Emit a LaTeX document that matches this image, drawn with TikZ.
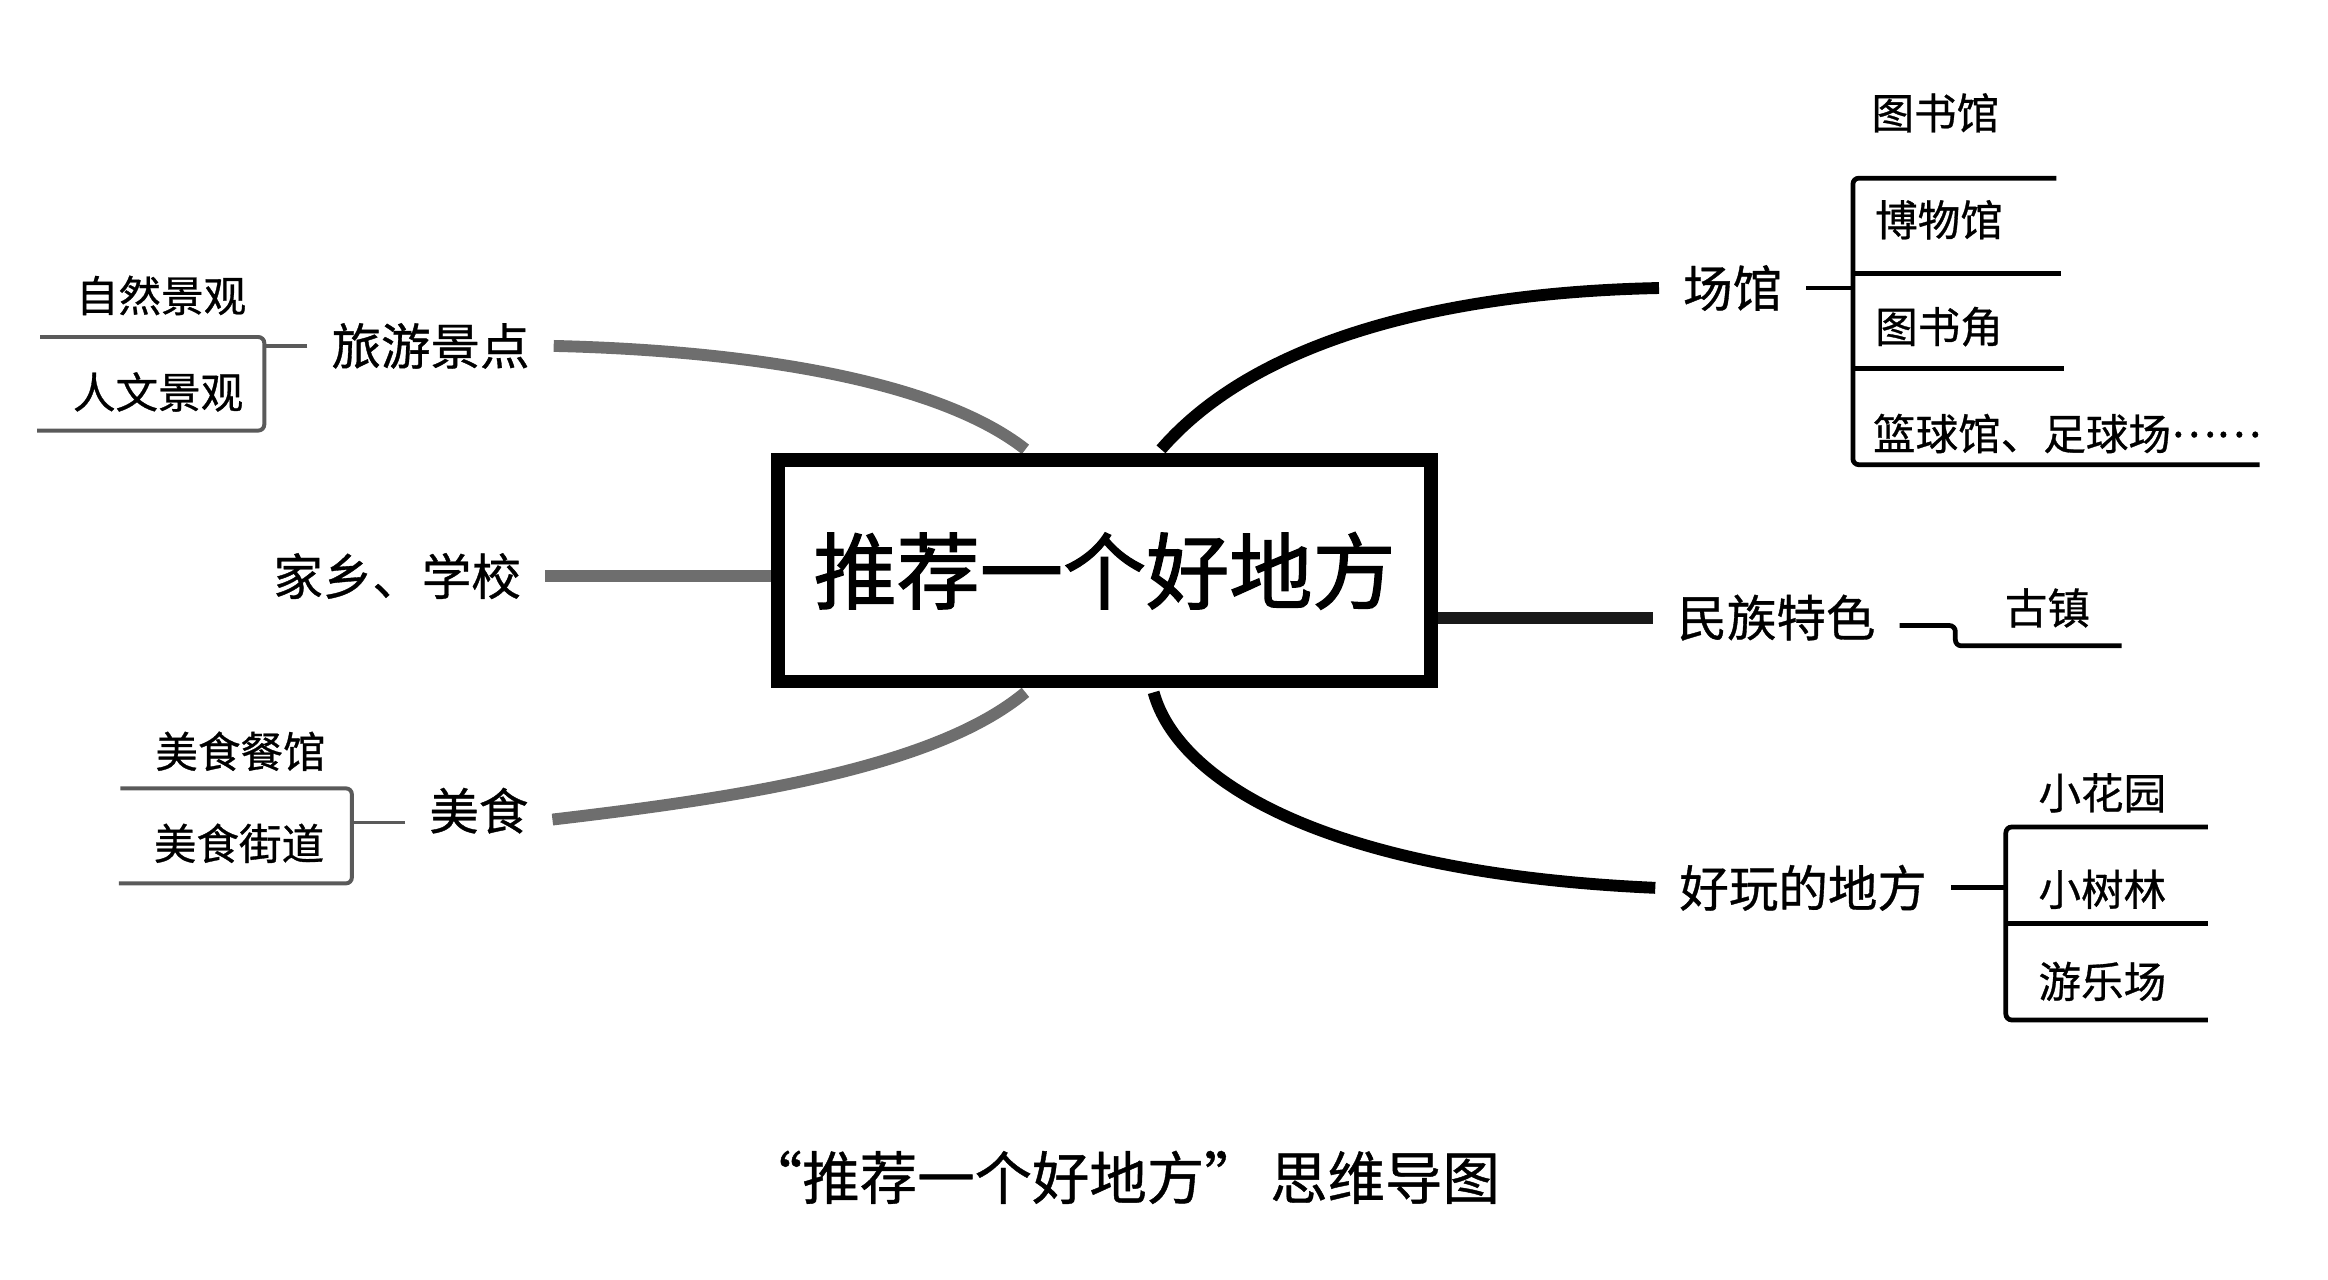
\documentclass[tikz,border=0pt]{standalone}
\usepackage{fontspec}
\usepackage{tikz}
\usetikzlibrary{backgrounds}
\usepackage{xcolor}

\newfontfamily\cjk[FakeBold=0.7]{Noto Sans CJK SC}
\newfontfamily\cjkbf[FakeBold=1.6]{Noto Sans CJK SC}
\definecolor{lgrey}{HTML}{6E6E6E}
\definecolor{dgrey}{HTML}{5A5A5A}

\tikzset{
  mainlbl/.style={inner xsep=12pt, inner ysep=2pt, font=\cjk\fontsize{25}{30}\selectfont},
  sublbl/.style={inner sep=1pt, font=\cjk\fontsize{21.5}{26}\selectfont},
  branch/.style={line width=6pt},
  greybranch/.style={branch, draw=lgrey},
  bracket/.style={line width=2.4pt, rounded corners=3pt},
  greybracket/.style={bracket, draw=dgrey, line width=2pt},
}

\begin{document}
\begin{tikzpicture}[x=0.75pt,y=0.75pt,yscale=-1,xscale=1]
\useasboundingbox (0,0) rectangle (1568,862);

% Text Node
\node[draw, fill=white, line width=7pt, minimum width=330pt, minimum height=111.75pt, inner sep=0pt,
  font=\cjkbf\fontsize{42}{50}\selectfont] (root) at (744,384.5) {推荐一个好地方};

% Text Node
\node[mainlbl] (lyjd) at (290,233) {旅游景点};
\node[mainlbl] (jxxx) at (267.5,388) {家乡、学校};
\node[mainlbl] (ms) at (322.5,546) {美食};
\node[mainlbl] (cg) at (1167,194) {场馆};
\node[mainlbl] (mzts) at (1196.5,416) {民族特色};
\node[mainlbl] (hwdf) at (1214.5,598) {好玩的地方};

% Text Node
\node[sublbl] (zrjg) at (108.5,199) {自然景观};
\node[sublbl] (rwjg) at (106.5,264) {人文景观};
\node[sublbl] (mscg) at (162,506) {美食餐馆};
\node[sublbl] (msjd) at (161,568) {美食街道};
\node[sublbl] (tsg) at (1303.5,76) {图书馆};
\node[sublbl] (bwg) at (1306,148) {博物馆};
\node[sublbl] (tsj) at (1306,220) {图书角};
\node[sublbl, anchor=west] (lqg) at (1260,292) {篮球馆、足球场\raisebox{0.3em}{……}};
\node[sublbl] (gz) at (1379,409.5) {古镇};
\node[sublbl] (xhy) at (1416,534) {小花园};
\node[sublbl] (xsl) at (1416,599) {小树林};
\node[sublbl] (ylc) at (1416,661) {游乐场};

% Text Node
\node[font=\cjk\fontsize{29}{34}\selectfont] (cap) at (756,793) {“推荐一个好地方”\hspace{0.15em}思维导图};

\begin{scope}[on background layer]
%Curve Lines
\draw[greybranch] (lyjd.east) .. controls (500,236) and (630,255) .. ([xshift=-40pt,yshift=-2pt]root.north);
\draw[greybranch] ([yshift=4.5pt]ms.east) .. controls (500,537) and (630,517) .. ([xshift=-40pt,yshift=2pt]root.south);
\draw[branch] ([xshift=28.5pt,yshift=-2pt]root.north) .. controls (845,230) and (970,197) .. (cg.west);
\draw[branch] ([xshift=24.75pt,yshift=2pt]root.south) .. controls (793,525) and (890,588) .. (hwdf.west);
%Straight Lines
\draw[greybranch] (jxxx.east) -- (jxxx.east -| root.west);
\draw[branch, draw=black!90] (mzts.west -| root.east) -- (mzts.west);
\end{scope}

%Shape: Bracket
\coordinate (lyS) at (178,233);
\draw[greybracket] (27,227) -- (178,227) -- (178,290) -- (25,290);
\draw[greybracket] (lyjd.west) -- (lyjd.west -| lyS);
%Shape: Bracket
\coordinate (msS) at (237,538);
\draw[greybracket] (81,531) -- (237,531) -- (237,595) -- (80,595);
\draw[greybracket] ([yshift=6pt]ms.west) -- ([yshift=6pt]ms.west -| msS);
%Shape: Bracket
\coordinate (cgS) at (1248,193);
\draw[bracket] (1385,120) -- (1248,120) -- (1248,313) -- (1522,313);
\draw[bracket] (1248,184) -- (1388,184) (1248,248) -- (1390,248);
\draw[bracket] (cg.east) -- (cg.east -| cgS);
%Shape: Bracket
\coordinate (gzS) at (1317,435);
\coordinate (gzE) at (1429,435);
\draw[bracket] ([yshift=4pt]mzts.east) -| (gzS) -- (gzE);
%Shape: Bracket
\coordinate (hwS) at (1351,599);
\draw[bracket] (1487,557) -- (1351,557) -- (1351,687) -- (1487,687);
\draw[bracket] (1351,622) -- (1487,622);
\draw[bracket] (hwdf.east) -- (hwdf.east -| hwS);

\end{tikzpicture}
\end{document}
